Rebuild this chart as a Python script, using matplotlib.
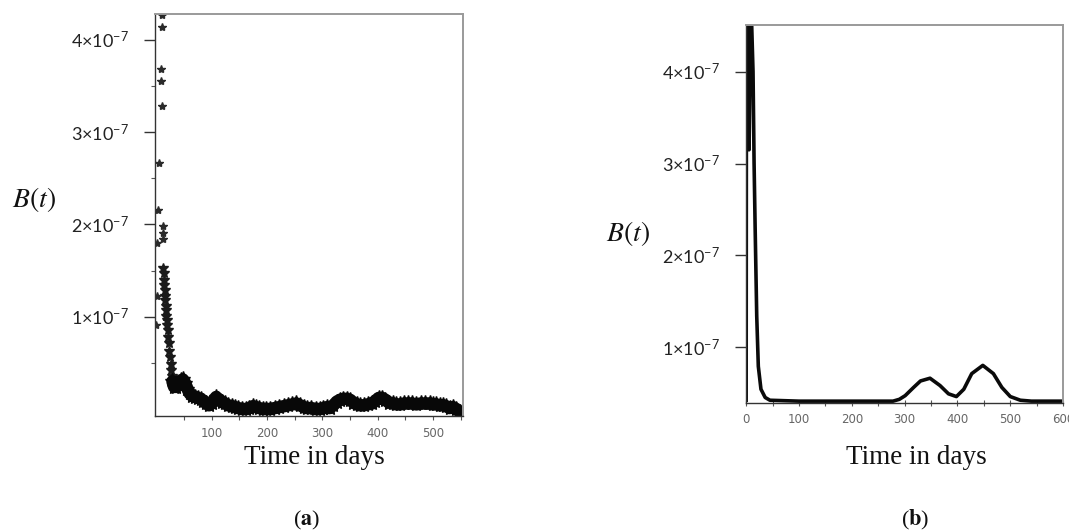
import numpy as np
import matplotlib
matplotlib.use("Agg")
import matplotlib.pyplot as plt
from matplotlib.ticker import FixedLocator

plt.rcParams["mathtext.fontset"] = "custom"
plt.rcParams["mathtext.rm"] = "Lato"
plt.rcParams["mathtext.it"] = "Lato:italic"

SCALE = 1e-7

# ---- panel (a): stochastic trajectory (values in units of 1e-7) ----
t_a_scatter = [9.6, 9.6, 8.5, 8.5, 10.0, 4.0, 3.0, 12.7, 12.7, 11.5, 1.0, 1.0, 0.0]
B_a_scatter = [4.27, 4.14, 3.68, 3.55, 3.28, 2.67, 2.16, 1.98, 1.91, 1.84, 1.80, 1.22, 0.91]

t_a_drop = [12.7, 13.4, 14.0, 14.6, 15.0, 15.6, 16.0, 16.8, 17.5, 18.1, 18.7, 19.6,
            20.5, 21.4, 22.4, 23.6, 25.0, 26.0, 27.0, 28.0, 29.0]
B_a_drop = [1.53, 1.47, 1.40, 1.34, 1.29, 1.23, 1.18, 1.12, 1.07, 1.01, 0.96, 0.91,
            0.86, 0.78, 0.71, 0.63, 0.56, 0.49, 0.42, 0.36, 0.30]

t_a_tail = [29, 32, 36, 40, 44, 48, 52, 56, 60, 65, 70, 75, 80, 85, 90, 95, 100, 104,
            108, 112, 118, 124, 130, 136, 142, 148, 155, 162, 168, 174, 180, 186, 192,
            199, 206, 214, 222, 230, 238, 246, 253, 260, 266, 272, 280, 288, 295, 302,
            308, 313, 320, 326, 332, 338, 344, 350, 356, 362, 368, 375, 382, 390, 396,
            402, 408, 414, 420, 427, 434, 441, 448, 455, 462, 470, 478, 486, 494, 500,
            506, 512, 518, 524, 530, 536, 542, 548, 552]
B_a_tail = [0.30, 0.24, 0.24, 0.27, 0.31, 0.32, 0.28, 0.22, 0.17, 0.14, 0.13, 0.12,
            0.11, 0.09, 0.06, 0.04, 0.06, 0.10, 0.13, 0.11, 0.08, 0.06, 0.04, 0.03,
            0.02, 0.01, 0.00, 0.00, 0.01, 0.03, 0.02, 0.01, 0.00, 0.00, 0.00, 0.01,
            0.02, 0.03, 0.04, 0.05, 0.06, 0.04, 0.02, 0.01, 0.01, 0.00, 0.00, 0.01,
            0.02, 0.01, 0.04, 0.08, 0.10, 0.11, 0.11, 0.10, 0.07, 0.05, 0.04, 0.04,
            0.05, 0.06, 0.09, 0.12, 0.12, 0.10, 0.07, 0.06, 0.05, 0.05, 0.06, 0.06,
            0.06, 0.05, 0.06, 0.06, 0.06, 0.05, 0.05, 0.04, 0.04, 0.03, 0.01, 0.02,
            0.00, -0.03, -0.05]

# ---- panel (b): deterministic trajectory (values in units of 1e-7) ----
t_b = [0, 0.6, 1.2, 2.5, 4, 5.5, 7, 8, 9, 10.5, 13, 15, 17, 20, 23, 28, 36, 45,
       100, 200, 278, 290, 301, 317, 330, 348, 367, 383, 398, 412, 427, 448, 468,
       484, 500, 519, 540, 600]
B_b = [0.42, 4.6, 5.2, 4.6, 3.6, 3.15, 3.9, 4.8, 5.0, 4.5, 4.0, 3.0, 2.3, 1.34,
       0.79, 0.54, 0.45, 0.42, 0.41, 0.41, 0.41, 0.43, 0.47, 0.56, 0.63, 0.66,
       0.58, 0.49, 0.46, 0.54, 0.71, 0.80, 0.71, 0.56, 0.46, 0.42, 0.41, 0.41]

y_ticks = [1, 2, 3, 4]
y_labels = [r"$%d{\times}10^{-7}$" % v for v in y_ticks]

fig = plt.figure(figsize=(10.69, 5.32), dpi=100)
ax_a = fig.add_axes([0.145, 0.218, 0.288, 0.7556])
ax_b = fig.add_axes([0.698, 0.2425, 0.2965, 0.7105])


def style_axes(ax):
    for side in ("top", "right"):
        ax.spines[side].set_color("#9a9a9a")
        ax.spines[side].set_linewidth(1.4)
    for side in ("left", "bottom"):
        ax.spines[side].set_color("#333333")
        ax.spines[side].set_linewidth(1.0)
    ax.set_yticks([v * SCALE for v in y_ticks])
    ax.set_yticklabels(y_labels)
    ax.tick_params(axis="y", which="major", direction="out", length=8, width=1.0,
                   pad=11, labelsize=13, labelcolor="#222222", color="#333333")
    ax.tick_params(axis="y", which="minor", direction="out", length=3, width=0.8,
                   color="#555555")
    ax.tick_params(axis="x", which="both", direction="out", length=3, width=0.8,
                   pad=5, labelsize=8.5, labelcolor="#666666", color="#555555")


# panel (a)
ax_a.plot(t_a_scatter, np.array(B_a_scatter) * SCALE, linestyle="none", marker="*",
          ms=6, color="#2a2a2a", mec="#2a2a2a")
ax_a.plot(t_a_drop, np.array(B_a_drop) * SCALE, linestyle="none", marker="*",
          ms=7.5, color="#1a1a1a", mec="#1a1a1a")
ax_a.plot(t_a_tail, np.array(B_a_tail) * SCALE, linestyle="-", lw=9, marker="*",
          ms=11, color="#080808", solid_capstyle="round", solid_joinstyle="round")
ax_a.set_xlim(-2.5, 554)
ax_a.set_ylim(-0.076 * SCALE, 4.28 * SCALE)
style_axes(ax_a)
ax_a.set_xticks([100, 200, 300, 400, 500])
ax_a.xaxis.set_minor_locator(FixedLocator([50, 150, 250, 350, 450, 550]))
ax_a.yaxis.set_minor_locator(FixedLocator([v * SCALE for v in (0.5, 1.5, 2.5, 3.5)]))

# panel (b)
ax_b.plot(t_b, np.array(B_b) * SCALE, color="#0a0a0a", lw=2.6,
          solid_joinstyle="round")
ax_b.set_xlim(0, 600)
ax_b.set_ylim(0.39 * SCALE, 4.51 * SCALE)
style_axes(ax_b)
ax_b.set_xticks([0, 100, 200, 300, 400, 500, 600])
ax_b.xaxis.set_minor_locator(FixedLocator([50, 150, 250, 350, 450, 550]))
ax_b.tick_params(axis="x", which="both", direction="inout", length=5)

# axis titles and panel letters
for xc, yc in ((314, 458), (916, 457)):
    fig.text(xc / 1069, 1 - yc / 532, "Time in days", family="Liberation Serif",
             fontsize=19.5, ha="center", va="center", color="#111111")
fig.text(34 / 1069, 1 - 200 / 532, r"$B(t)$", math_fontfamily="stix", fontsize=20,
         ha="center", va="center", color="#111111")
fig.text(628 / 1069, 1 - 233 / 532, r"$B(t)$", math_fontfamily="stix", fontsize=20,
         ha="center", va="center", color="#111111")
fig.text(307 / 1069, 1 - 520 / 532, r"($\mathbf{a}$)", math_fontfamily="stix",
         family="Liberation Serif", fontsize=16, ha="center", va="center", color="#111111")
fig.text(915 / 1069, 1 - 520 / 532, r"($\mathbf{b}$)", math_fontfamily="stix",
         family="Liberation Serif", fontsize=16, ha="center", va="center", color="#111111")

fig.savefig("out.png", dpi=100, facecolor="white")
